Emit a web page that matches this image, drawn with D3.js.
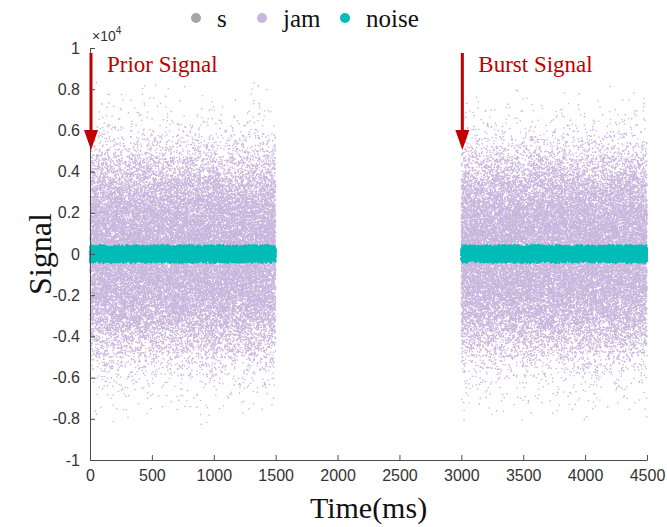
<!DOCTYPE html>
<html>
<head>
<meta charset="utf-8">
<script src="https://cdn.jsdelivr.net/npm/d3@7"></script>
<style>
  body { margin: 0; background: #fff; }
  svg { display: block; }
</style>
</head>
<body>
<div id="chart"></div>
<script>
const width = 667;
const height = 527;

// time windows where the signals are on (ms)
const segStart = [0, 3000];
const segEnd = [1500, 4500];

// amplitude levels (x1e4) and relative dot density at each level
// (same above and below zero)
const jamLevels = [0, 0.1, 0.2, 0.3, 0.4, 0.5, 0.6, 0.7, 0.8, 0.85];
const jamDensity = [1.0, 0.97, 0.86, 0.62, 0.34, 0.13, 0.04, 0.012, 0.003, 0];
const jamDotsPerWindow = 30000;

const noiseLevels = [0, 0.027, 0.035, 0.045];
const noiseDensity = [1, 1, 0.5, 0];
const noiseDotsPerWindow = 7000;

const xTicks = [0, 500, 1000, 1500, 2000, 2500, 3000, 3500, 4000, 4500];
const yTicks = [-1, -0.8, -0.6, -0.4, -0.2, 0, 0.2, 0.4, 0.6, 0.8, 1];

const legendNames = ["s", "jam", "noise"];
const legendColors = ["#a6a6a6", "#c9b5dd", "#00bdb8"];

const notes = ["Prior Signal", "Burst Signal"];
const noteTimes = [0, 3000];

const margin = {left: 90, right: 20, top: 48, bottom: 67};

const svg = d3.select("#chart").append("svg")
  .attr("width", width)
  .attr("height", height);

const x = d3.scaleLinear().domain([0, 4500]).range([margin.left, width - margin.right]);
const y = d3.scaleLinear().domain([-1, 1]).range([height - margin.bottom, margin.top]);

// fixed scatter position for dot i (no Math.random, same picture each time)
function jitter(i, k) {
  const s = Math.sin(i * 12.9898 + k * 78.233) * 43758.5453;
  return s - Math.floor(s);
}

// amplitude at quantile q of the piecewise linear density profile
function profileSampler(levels, dens) {
  const cum = [0];
  for (let j = 1; j < levels.length; j++) {
    cum.push(cum[j - 1] + (dens[j - 1] + dens[j]) / 2 * (levels[j] - levels[j - 1]));
  }
  const total = cum[cum.length - 1];
  return q => {
    const target = q * total;
    let j = 1;
    while (j < cum.length - 1 && cum[j] < target) j++;
    const a0 = levels[j - 1], w = levels[j] - a0;
    const d0 = dens[j - 1], d1 = dens[j];
    const r = target - cum[j - 1];
    const slope = (d1 - d0) / w;
    let t;
    if (Math.abs(slope) < 1e-9) t = r / d0;
    else t = (-d0 + Math.sqrt(Math.max(0, d0 * d0 + 2 * slope * r))) / slope;
    return a0 + Math.min(w, Math.max(0, t));
  };
}

function cloud(levels, dens, n, seed) {
  const sample = profileSampler(levels, dens);
  const pts = [];
  segStart.forEach((s, k) => {
    for (let i = 0; i < n; i++) {
      const id = i + k * n + seed;
      const sign = jitter(id, 3) < 0.5 ? -1 : 1;
      pts.push({
        t: s + jitter(id, 1) * (segEnd[k] - s),
        a: sign * sample(jitter(id, 2))
      });
    }
  });
  return pts;
}

const jamData = cloud(jamLevels, jamDensity, jamDotsPerWindow, 0);
const noiseData = cloud(noiseLevels, noiseDensity, noiseDotsPerWindow, 100000);

svg.append("g").selectAll("circle")
  .data(jamData)
  .join("circle")
  .attr("cx", d => x(d.t))
  .attr("cy", d => y(d.a))
  .attr("r", 0.8)
  .attr("fill", legendColors[1]);

svg.append("g").selectAll("circle")
  .data(noiseData)
  .join("circle")
  .attr("cx", d => x(d.t))
  .attr("cy", d => y(d.a))
  .attr("r", 1.1)
  .attr("fill", legendColors[2]);

// axes, MATLAB style: ticks pointing in
const xAxis = svg.append("g")
  .attr("transform", `translate(0,${y(-1)})`)
  .call(d3.axisBottom(x).tickValues(xTicks).tickSizeInner(-5).tickSizeOuter(0).tickPadding(10)
    .tickFormat(d => String(d)));
const yAxis = svg.append("g")
  .attr("transform", `translate(${x(0)},0)`)
  .call(d3.axisLeft(y).tickValues(yTicks).tickSizeInner(-5).tickSizeOuter(0).tickPadding(10)
    .tickFormat(d => String(d)));

[xAxis, yAxis].forEach(g => {
  g.selectAll("path, line").attr("stroke", "#4d4d4d").attr("stroke-width", 1);
  g.selectAll("text")
    .attr("fill", "#333")
    .style("font-family", "Liberation Sans, Arial, sans-serif")
    .style("font-size", "16px");
});

// x10^4 exponent
const expo = svg.append("text")
  .attr("x", x(0) + 2)
  .attr("y", y(1) - 7)
  .attr("fill", "#333")
  .style("font-family", "Liberation Sans, Arial, sans-serif")
  .style("font-size", "14px");
expo.append("tspan").text("×10");
expo.append("tspan").attr("dy", -7).style("font-size", "10px").text("4");

// axis titles
svg.append("text")
  .attr("x", x(2250))
  .attr("y", 518)
  .attr("text-anchor", "middle")
  .style("font-family", "Liberation Serif, Times New Roman, serif")
  .style("font-size", "30px")
  .attr("fill", "#111")
  .text("Time(ms)");

svg.append("text")
  .attr("transform", `translate(51,${y(0)}) rotate(-90)`)
  .attr("text-anchor", "middle")
  .style("font-family", "Liberation Serif, Times New Roman, serif")
  .style("font-size", "32px")
  .attr("fill", "#111")
  .text("Signal");

// legend
const legendX = [196, 262, 345];
legendNames.forEach((name, i) => {
  svg.append("circle")
    .attr("cx", legendX[i])
    .attr("cy", 18)
    .attr("r", 5)
    .attr("fill", legendColors[i]);
  svg.append("text")
    .attr("x", legendX[i] + 21)
    .attr("y", 27)
    .style("font-family", "Liberation Serif, Times New Roman, serif")
    .style("font-size", "25px")
    .attr("fill", "#111")
    .text(name);
});

// red arrows + labels
const red = "#c00000";
notes.forEach((label, i) => {
  const ax = x(noteTimes[i]) + 1;
  svg.append("line")
    .attr("x1", ax).attr("x2", ax)
    .attr("y1", 53).attr("y2", 132)
    .attr("stroke", red)
    .attr("stroke-width", 3);
  svg.append("path")
    .attr("d", `M${ax - 7},130 L${ax + 7},130 L${ax},150 Z`)
    .attr("fill", red);
  svg.append("text")
    .attr("x", ax + 16)
    .attr("y", 72)
    .style("font-family", "Liberation Serif, Times New Roman, serif")
    .style("font-size", "23px")
    .attr("fill", red)
    .text(label);
});
</script>
</body>
</html>
